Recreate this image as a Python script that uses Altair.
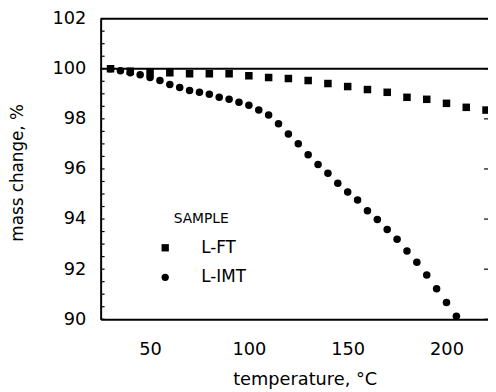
import altair as alt
import pandas as pd

# L-FT sample (squares)
ft_temp = [30, 40, 50, 60, 70, 80, 90, 100, 110, 120, 130, 140, 150, 160, 170, 180, 190, 200, 210, 220]
ft_mass = [100.0, 99.9, 99.84, 99.84, 99.80, 99.80, 99.80, 99.72, 99.65, 99.61, 99.53, 99.41,
           99.29, 99.17, 99.06, 98.86, 98.78, 98.62, 98.46, 98.35]

# L-IMT sample (circles)
imt_temp = [30, 35, 40, 45, 50, 55, 60, 65, 70, 75, 80, 85, 90, 95, 100, 105, 110, 115,
            120, 125, 130, 135, 140, 145, 150, 155, 160, 165, 170, 175, 180, 185, 190, 195, 200, 205]
imt_mass = [100.0, 99.92, 99.84, 99.76, 99.65, 99.53, 99.37, 99.25, 99.13, 99.06, 98.98, 98.86,
            98.78, 98.66, 98.54, 98.35, 98.15, 97.80, 97.40, 97.01, 96.57, 96.18, 95.83, 95.43,
            95.08, 94.76, 94.33, 93.98, 93.58, 93.19, 92.72, 92.28, 91.77, 91.22, 90.67, 90.12]

x_labels = [50, 100, 150, 200]
y_labels = [90, 92, 94, 96, 98, 100, 102]
y_minor = [90, 90.5, 91, 91.5, 92, 92.5, 93, 93.5, 94, 94.5, 95, 95.5, 96, 96.5, 97, 97.5,
           98, 98.5, 99, 99.5, 100, 100.5, 101, 101.5, 102]

FONT = "DejaVu Sans"

pts = pd.DataFrame(
    {"temp": ft_temp + imt_temp,
     "mass": ft_mass + imt_mass,
     "sample": ["L-FT"] * len(ft_temp) + ["L-IMT"] * len(imt_temp)}
)

xs = alt.Scale(domain=[25, 221], nice=False, zero=False)
ys = alt.Scale(domain=[90, 102], nice=False, zero=False)

points = alt.Chart(pts).mark_point(filled=True, fill="black", opacity=1, strokeWidth=0, size=58).encode(
    x=alt.X("temp:Q", scale=xs,
            axis=alt.Axis(values=x_labels, title="temperature, °C", ticks=False, tickSize=0,
                          labelPadding=22, grid=False, domainColor="black", domainWidth=2,
                          labelFont=FONT, labelFontSize=18, labelColor="black",
                          titleFont=FONT, titleFontSize=18, titleFontWeight="normal",
                          titleColor="black", titleX=207, titleY=61, titleBaseline="middle",
                          titleAlign="center")),
    y=alt.Y("mass:Q", scale=ys,
            axis=alt.Axis(values=y_labels, title="mass change, %", ticks=False, tickSize=0,
                          labelPadding=15, grid=False, domainColor="black", domainWidth=2,
                          labelFont=FONT, labelFontSize=18, labelColor="black",
                          titleFont=FONT, titleFontSize=17, titleFontWeight="normal",
                          titleColor="black", titleX=-84, titleY=156, titleBaseline="middle",
                          titleAlign="center")),
    shape=alt.Shape("sample:N", scale=alt.Scale(domain=["L-FT", "L-IMT"], range=["square", "circle"]),
                    legend=alt.Legend(title="SAMPLE", orient="none", legendX=57, legendY=196,
                                      titleFont=FONT, titleFontSize=14, titleFontWeight="normal",
                                      titleColor="black", titleAnchor="middle", titlePadding=14,
                                      labelFont=FONT, labelFontSize=17, labelColor="black",
                                      labelOffset=28, rowPadding=12, padding=0, symbolSize=55,
                                      symbolType="circle", symbolFillColor="black",
                                      symbolStrokeColor="black", symbolStrokeWidth=0)),
)

ytick_df = pd.DataFrame({"v": y_minor})
left_ticks = alt.Chart(ytick_df).mark_rule(color="black", strokeWidth=1.2).encode(
    y=alt.Y("v:Q", scale=ys), x=alt.value(0), x2=alt.value(4)
)
right_df = pd.DataFrame({"v": y_labels})
right_ticks = alt.Chart(right_df).mark_rule(color="black", strokeWidth=1.2).encode(
    y=alt.Y("v:Q", scale=ys), x=alt.value(389), x2=alt.value(393)
)

hline_df = pd.DataFrame({"v": [100, 102]})
hlines = alt.Chart(hline_df).mark_rule(color="black", strokeWidth=2).encode(
    y=alt.Y("v:Q", scale=ys), x=alt.value(0), x2=alt.value(393)
)

chart = alt.layer(hlines, left_ticks, right_ticks, points).properties(
    width=393, height=305,
    padding={"left": 94, "top": 8, "right": 0, "bottom": 71},
    autosize=alt.AutoSizeParams(type="none"),
    background="white",
).configure_view(stroke="transparent")

chart.save("out.html", embed_options={"renderer": "svg", "actions": False})
